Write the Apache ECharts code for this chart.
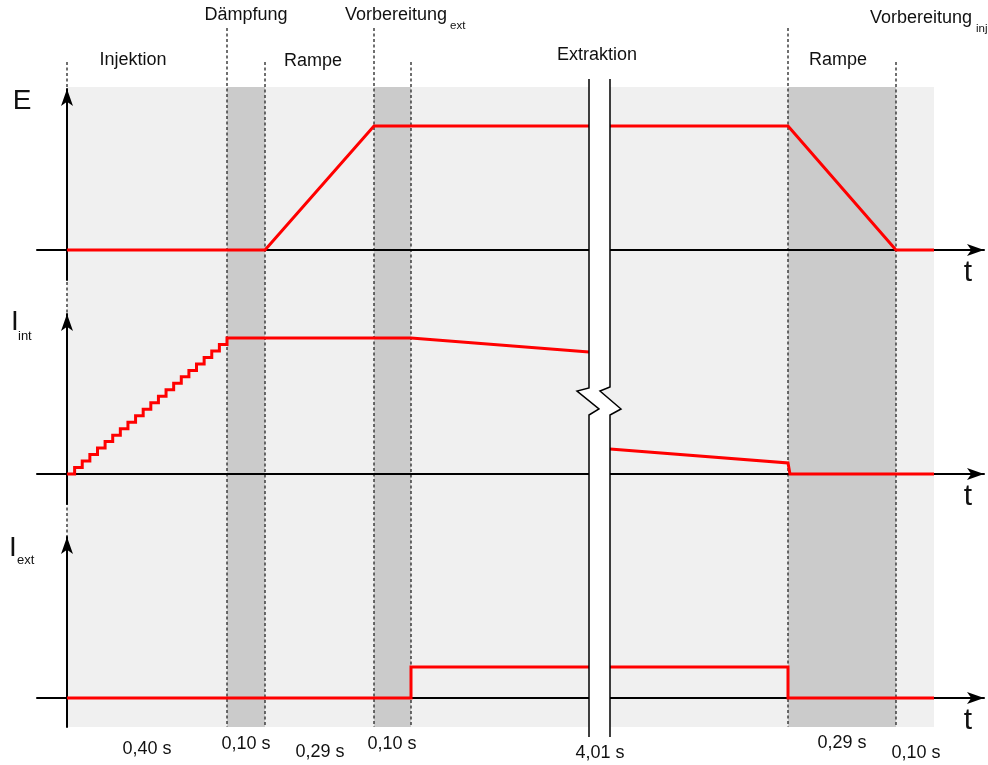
<!DOCTYPE html>
<html>
<head>
<meta charset="utf-8">
<script src="https://cdn.jsdelivr.net/npm/echarts@6/dist/echarts.min.js"></script>
<style>
  html, body { margin: 0; padding: 0; background: #ffffff; }
  #chart { width: 988px; height: 765px; }
</style>
</head>
<body>
<div id="chart"></div>
<script>
// ---- Cycle schedule (schematic time axis, arbitrary units) ----
// Phase edges: Injektion | Dämpfung | Rampe | Vorbereitung_ext | Extraktion (with axis break) | Rampe | Vorbereitung_inj
const phaseEdges = [0, 160, 198, 307, 344, 522, 543, 721, 829, 867];
const darkBands = [[160, 198], [307, 344], [721, 829]];
const phaseMarkers = [0, 160, 198, 307, 344, 721, 829];
const markerIsTall = [false, true, false, true, false, true, false];
const axisBreak = [522, 543];

// ---- Energy E (1 = extraction flat top) ----
const eTimeA = [0, 198, 307, 522];
const eValA = [0, 0, 1, 1];
const eTimeB = [543, 721, 829, 867];
const eValB = [1, 1, 0, 0];

// ---- Internal current I_int (1 = level after multi-turn injection) ----
const injLevels = [0, 1, 2, 3, 4, 5, 6, 7, 8, 9, 10, 11, 12, 13, 14, 15, 16, 17, 18, 19, 20, 21];
const iintTimeA = [160, 344, 522];
const iintValA = [1, 1, 0.897];
const iintTimeB = [543, 721, 723, 867];
const iintValB = [0.184, 0.081, 0, 0];

// ---- Extracted current I_ext ----
const iextTimeA = [0, 344, 344, 522];
const iextValA = [0, 0, 1, 1];
const iextTimeB = [543, 721, 721, 867];
const iextValB = [1, 1, 0, 0];

// ---- Texts ----
const phaseNames = ['Injektion', 'Dämpfung', 'Rampe', 'Vorbereitung', 'Extraktion', 'Rampe', 'Vorbereitung'];
const phaseSubs = ['', '', '', 'ext', '', '', 'inj'];
const durations = ['0,40 s', '0,10 s', '0,29 s', '0,10 s', '4,01 s', '0,29 s', '0,10 s'];
const signalNames = ['E', 'I', 'I'];
const signalSubs = ['', 'int', 'ext'];

// ---- Layout (pixels) ----
const W = 988, H = 765;
const GRID_LEFT = 37, GRID_RIGHT = 4;
const X_MIN = -30;
const ARROW = [9, 17];
const ARROW_BACKOFF = 2;
const BG_TOP = 87, BG_BOTTOM = 727;
const DASH_TALL = 28, DASH_SHORT = 62;
const BREAK_TOP = 79, BREAK_BOTTOM = 737;
const panels = [
  { base: 250, unit: 124, tip: 87,  foot: 280 },
  { base: 474, unit: 136, tip: 312, foot: 504 },
  { base: 698, unit: 31,  tip: 535, foot: 727 }
];
const phaseLabelPos = [[133, 60], [246, 15], [313, 61], [396, 15], [597, 55], [838, 60], [921, 18]];
const phaseSubPos = [null, null, null, [450, 26], null, null, [976, 29]];
const durationPos = [[147, 749], [246, 744], [320, 752], [392, 744], [600, 753], [842, 743], [916, 753]];
const signalPos = [[22, 101], [15, 322], [13, 548]];
const signalSubPos = [null, [18, 336], [17, 560]];
const tLabelPos = [[968, 273], [968, 497], [968, 721]];

const RED = '#ff0000';
const FONT = '"Liberation Sans", Arial, sans-serif';
// one schematic time unit per pixel across the plot width
const X_MAX = X_MIN + (W - GRID_LEFT - GRID_RIGHT);

function pts(ts, vs) { return ts.map((t, i) => [t, vs[i]]); }

// staircase of the multi-turn injection
const stairPts = [];
(function () {
  const n = injLevels.length - 1;
  const end = phaseEdges[1];
  for (let k = 0; k < n; k++) {
    const x0 = k * end / n, x1 = (k + 1) * end / n;
    const y = injLevels[k] / injLevels[n];
    stairPts.push([x0, y], [x1, y]);
  }
})();

const grids = [{ left: GRID_LEFT, right: GRID_RIGHT, top: 0, bottom: 0 }];
const xAxes = [{ type: 'value', gridIndex: 0, min: X_MIN, max: X_MAX, show: false }];
const yAxes = [{ type: 'value', gridIndex: 0, min: 0, max: H, inverse: true, show: false }];

const axisLineStyle = { color: '#000', width: 2 };
panels.forEach((p, i) => {
  const top = p.tip + ARROW_BACKOFF;
  grids.push({ left: GRID_LEFT, right: GRID_RIGHT, top: top, height: p.foot - top });
  xAxes.push({
    type: 'value', gridIndex: i + 1, min: X_MIN, max: X_MAX, z: 3,
    axisLine: { show: true, onZero: true, symbol: ['none', 'arrow'], symbolSize: ARROW, lineStyle: axisLineStyle },
    axisTick: { show: false }, axisLabel: { show: false }, splitLine: { show: false }
  });
  yAxes.push({
    type: 'value', gridIndex: i + 1, z: 3,
    min: -(p.foot - p.base) / p.unit, max: (p.base - top) / p.unit,
    axisLine: { show: true, onZero: true, symbol: ['none', 'arrow'], symbolSize: ARROW, lineStyle: axisLineStyle },
    axisTick: { show: false }, axisLabel: { show: false }, splitLine: { show: false }
  });
});

function redLine(data, panel) {
  return {
    type: 'line', xAxisIndex: panel + 1, yAxisIndex: panel + 1, data: data,
    showSymbol: false, symbol: 'none', silent: true, z: 4,
    lineStyle: { color: RED, width: 3, join: 'miter' }
  };
}

const bandData = [[phaseEdges[0], phaseEdges[phaseEdges.length - 1], 0]]
  .concat(darkBands.map(b => [b[0], b[1], 1]));

const series = [
  {
    type: 'custom', xAxisIndex: 0, yAxisIndex: 0, z: 1, silent: true,
    data: bandData,
    renderItem(params, api) {
      const a = api.coord([api.value(0), BG_TOP]);
      const b = api.coord([api.value(1), BG_BOTTOM]);
      const dark = api.value(2) === 1;
      return {
        type: 'rect', z2: dark ? 2 : 1,
        shape: { x: a[0], y: a[1], width: b[0] - a[0], height: b[1] - a[1] },
        style: { fill: dark ? '#cbcbcb' : '#f0f0f0' }
      };
    }
  },
  {
    type: 'custom', xAxisIndex: 0, yAxisIndex: 0, z: 2, silent: true,
    data: phaseMarkers.map((x, i) => [x, markerIsTall[i] ? DASH_TALL : DASH_SHORT]),
    renderItem(params, api) {
      const a = api.coord([api.value(0), api.value(1)]);
      const b = api.coord([api.value(0), BG_BOTTOM]);
      const x = Math.round(a[0]);
      return {
        type: 'line',
        shape: { x1: x, y1: a[1], x2: x, y2: b[1] },
        style: { stroke: '#333333', lineWidth: 1.4, lineDash: [3, 2.5] }
      };
    }
  },
  redLine(pts(eTimeA, eValA), 0),
  redLine(pts(eTimeB, eValB), 0),
  redLine(stairPts.concat(pts(iintTimeA, iintValA)), 1),
  redLine(pts(iintTimeB, iintValB), 1),
  redLine(pts(iextTimeA, iextValA), 2),
  redLine(pts(iextTimeB, iextValB), 2),
  {
    type: 'custom', xAxisIndex: 0, yAxisIndex: 0, z: 6, silent: true,
    data: [axisBreak],
    renderItem(params, api) {
      const L = api.value(0), R = api.value(1);
      const c = (x, y) => api.coord([x, y]);
      const left = [[L, BREAK_TOP], [L, 388], [L - 12, 391], [L + 10, 409], [L, 415], [L, BREAK_BOTTOM]].map(p => c(p[0], p[1]));
      const right = [[R, BREAK_TOP], [R, 387], [R - 10, 391], [R + 11, 409], [R, 415], [R, BREAK_BOTTOM]].map(p => c(p[0], p[1]));
      const fill = left.concat(right.slice().reverse());
      return {
        type: 'group',
        children: [
          { type: 'polygon', shape: { points: fill }, style: { fill: '#ffffff', stroke: null } },
          { type: 'polyline', shape: { points: left }, style: { stroke: '#000', lineWidth: 1.5, fill: null } },
          { type: 'polyline', shape: { points: right }, style: { stroke: '#000', lineWidth: 1.5, fill: null } }
        ]
      };
    }
  }
];

const graphics = [];
function addText(str, pos, size, align) {
  graphics.push({
    type: 'text', x: pos[0], y: pos[1], z: 100, silent: true,
    style: {
      text: str, font: size + 'px ' + FONT, fill: '#111',
      textAlign: align || 'center', textVerticalAlign: 'middle',
      align: align || 'center', verticalAlign: 'middle'
    }
  });
}
phaseNames.forEach((s, i) => {
  addText(s, phaseLabelPos[i], 18);
  if (phaseSubs[i]) addText(phaseSubs[i], phaseSubPos[i], 11.5, 'left');
});
durations.forEach((s, i) => addText(s, durationPos[i], 18));
signalNames.forEach((s, i) => {
  addText(s, signalPos[i], 28);
  if (signalSubs[i]) addText(signalSubs[i], signalSubPos[i], 13, 'left');
});
tLabelPos.forEach(p => addText('t', p, 30));

const chart = echarts.init(document.getElementById('chart'), null, { renderer: 'canvas', width: W, height: H });
chart.setOption({
  animation: false,
  backgroundColor: '#ffffff',
  grid: grids,
  xAxis: xAxes,
  yAxis: yAxes,
  series: series,
  graphic: graphics
});
</script>
</body>
</html>
